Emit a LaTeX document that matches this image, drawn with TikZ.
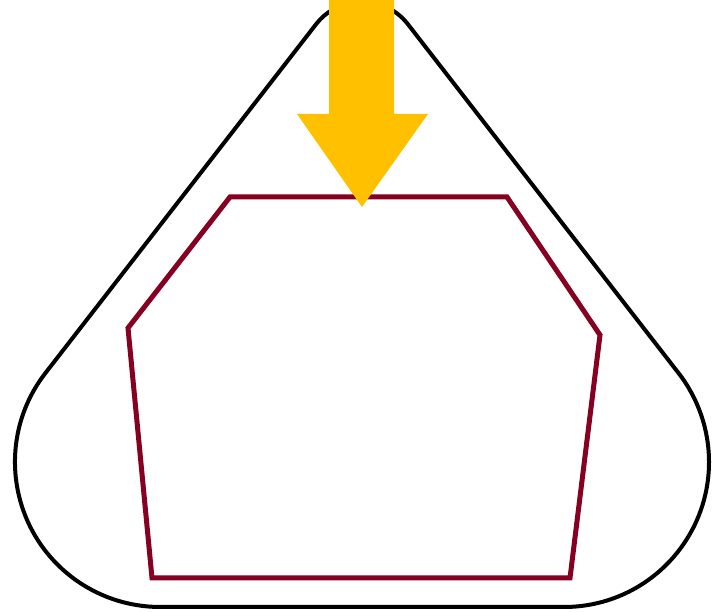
\documentclass[tikz,border=0pt]{standalone}
\usepackage{tikz}
\definecolor{wine}{HTML}{850021}
\definecolor{amber}{HTML}{FFC000}
\tikzset{
  outline/.style={draw=black,line width=4pt,line join=round},
  hexa/.style={draw=wine,line width=5pt,line join=miter},
  push/.style={fill=amber,draw=none},
}
\begin{document}
\begin{tikzpicture}[x=1pt,y=1pt]
\useasboundingbox (0,0) rectangle (717,612);
% rounded triangle
\draw[outline] (160,5) -- (564,5)
  arc[start angle=-90,end angle=37.8,radius=145] -- (407.8,587.9)
  arc[start angle=37.8,end angle=142.2,radius=58] -- (45.4,238.9)
  arc[start angle=142.2,end angle=270,radius=145] -- cycle;
% inner hexagon
\coordinate (h1) at (230,415);
\coordinate (h2) at (507,415);
\coordinate (h3) at (600,277);
\coordinate (h4) at (570,34);
\coordinate (h5) at (152,34);
\coordinate (h6) at (128,284);
\draw[hexa] (h1) -- (h2) -- (h3) -- (h4) -- (h5) -- (h6) -- cycle;
% arrow
\fill[push] (329,620) -- (394,620) -- (394,498) -- (428,498) -- (362,405)
  -- (297,498) -- (329,498) -- cycle;
\end{tikzpicture}
\end{document}
